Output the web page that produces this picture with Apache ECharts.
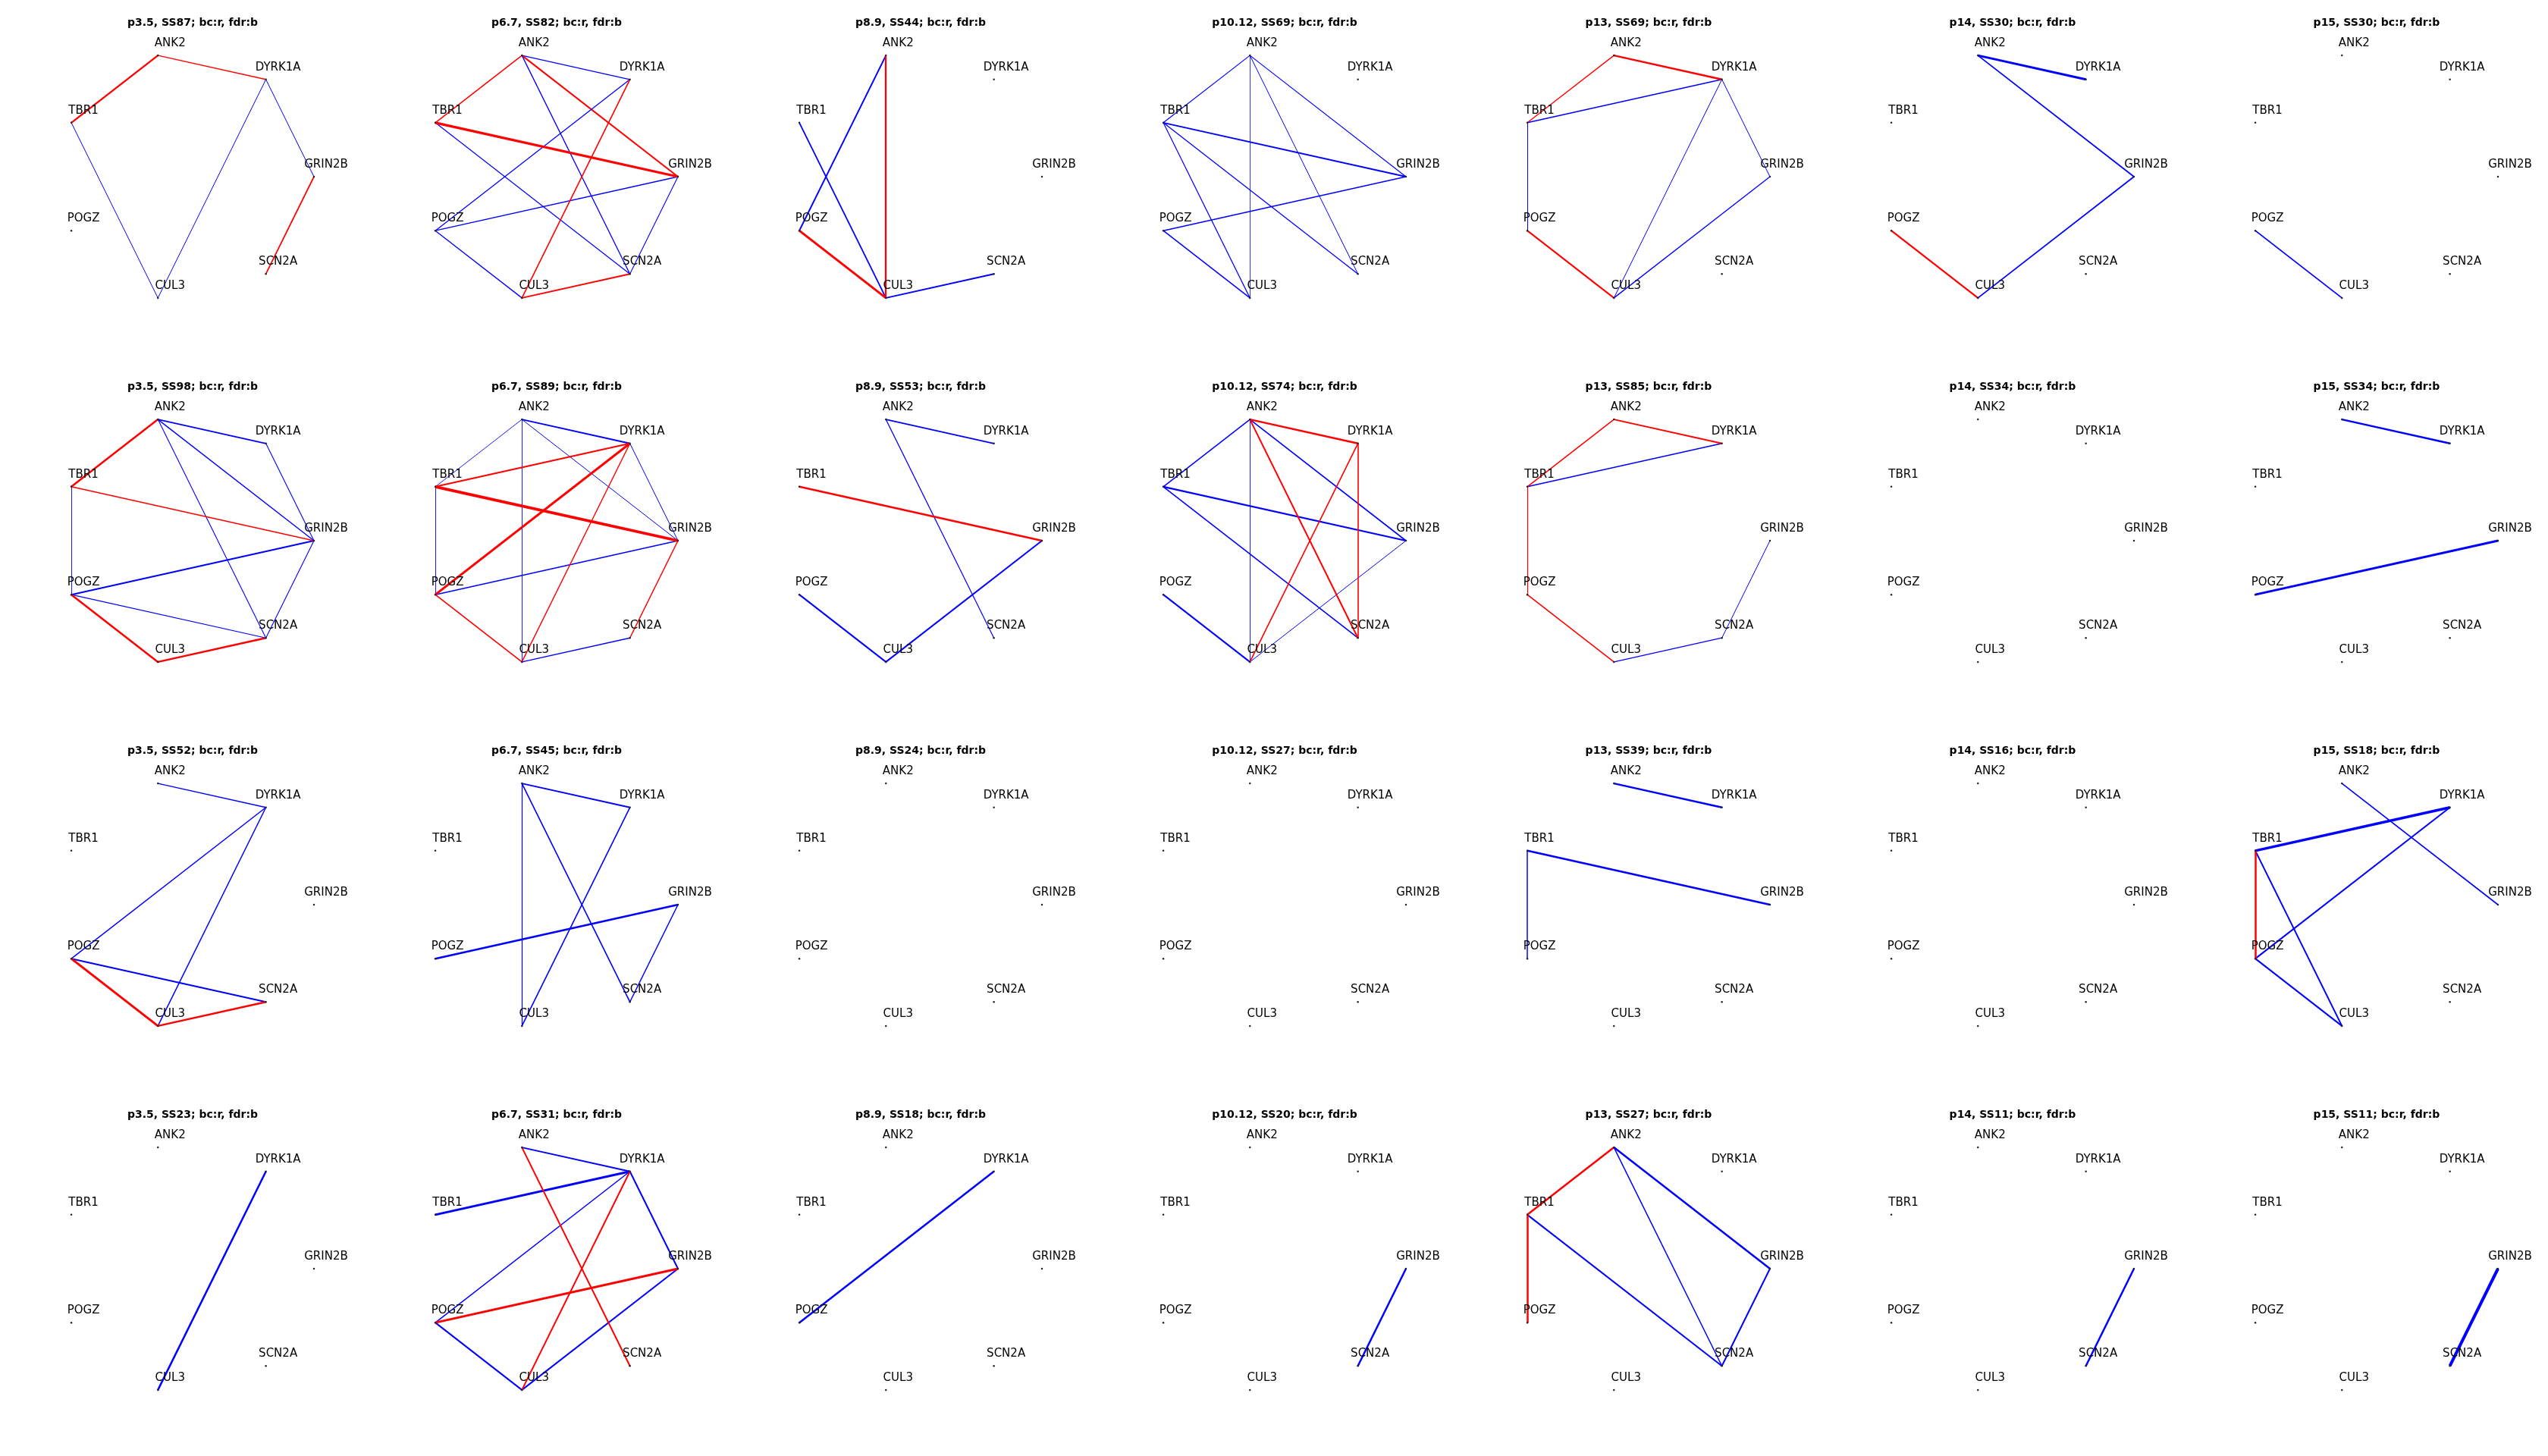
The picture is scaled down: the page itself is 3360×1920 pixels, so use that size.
<!DOCTYPE html>
<html>
<head>
<meta charset="utf-8">
<script src="https://cdn.jsdelivr.net/npm/echarts@6/dist/echarts.min.js"></script>
<style>
html,body{margin:0;padding:0;background:#ffffff;}
#chart{width:3360px;height:1920px;}
</style>
</head>
<body>
<div id="chart"></div>
<script>
// ---- data ----
const genes = ['GRIN2B', 'DYRK1A', 'ANK2', 'TBR1', 'POGZ', 'CUL3', 'SCN2A'];
const periods = ['p3.5', 'p6.7', 'p8.9', 'p10.12', 'p13', 'p14', 'p15'];
const sampleSizes = [
  [87, 82, 44, 69, 69, 30, 30],
  [98, 89, 53, 74, 85, 34, 34],
  [52, 45, 24, 27, 39, 16, 18],
  [23, 31, 18, 20, 27, 11, 11]
];
// edge: [gene A, gene B, source ('bc' = red, 'fdr' = blue), weight]
const edgesRow0 = [
  [['TBR1','ANK2','bc',2.3],['ANK2','DYRK1A','bc',1.5],['DYRK1A','GRIN2B','fdr',1],['GRIN2B','SCN2A','bc',1.7],['TBR1','CUL3','fdr',1],['DYRK1A','CUL3','fdr',1]],
  [['ANK2','TBR1','bc',1.5],['ANK2','DYRK1A','fdr',1.3],['ANK2','GRIN2B','bc',2],['ANK2','SCN2A','fdr',1.3],['TBR1','SCN2A','fdr',1.2],['DYRK1A','POGZ','fdr',1.3],['POGZ','GRIN2B','fdr',1.3],['POGZ','CUL3','fdr',1.3],['GRIN2B','SCN2A','fdr',1.1],['DYRK1A','CUL3','bc',1.6],['CUL3','SCN2A','bc',2],['TBR1','GRIN2B','bc',3.2]],
  [['ANK2','POGZ','fdr',2],['TBR1','CUL3','fdr',1.8],['CUL3','SCN2A','fdr',2],['ANK2','CUL3','bc',2.2],['POGZ','CUL3','bc',3]],
  [['ANK2','TBR1','fdr',1.2],['ANK2','CUL3','fdr',0.8],['ANK2','SCN2A','fdr',1],['ANK2','GRIN2B','fdr',1.2],['TBR1','GRIN2B','fdr',1.8],['TBR1','CUL3','fdr',1.2],['TBR1','SCN2A','fdr',1.3],['POGZ','GRIN2B','fdr',1.5],['POGZ','CUL3','fdr',1.5]],
  [['DYRK1A','TBR1','fdr',1.5],['DYRK1A','CUL3','fdr',1],['DYRK1A','GRIN2B','fdr',1],['GRIN2B','CUL3','fdr',1.3],['TBR1','POGZ','fdr',1],['ANK2','TBR1','bc',1.3],['ANK2','DYRK1A','bc',2.5],['POGZ','CUL3','bc',2]],
  [['ANK2','DYRK1A','fdr',3],['ANK2','GRIN2B','fdr',1.8],['GRIN2B','CUL3','fdr',1.8],['POGZ','CUL3','bc',2.2]],
  [['POGZ','CUL3','fdr',1.8]]
];
const edgesRow1 = [
  [['ANK2','DYRK1A','fdr',1.8],['ANK2','GRIN2B','fdr',1.4],['ANK2','SCN2A','fdr',1.1],['DYRK1A','GRIN2B','fdr',1.1],['TBR1','POGZ','fdr',0.9],['POGZ','GRIN2B','fdr',2],['GRIN2B','SCN2A','fdr',1.1],['POGZ','SCN2A','fdr',1.2],['ANK2','TBR1','bc',2.5],['TBR1','GRIN2B','bc',1.5],['POGZ','CUL3','bc',2.5],['CUL3','SCN2A','bc',2.5]],
  [['ANK2','TBR1','fdr',0.9],['ANK2','DYRK1A','fdr',2],['ANK2','CUL3','fdr',0.9],['ANK2','GRIN2B','fdr',1],['TBR1','POGZ','fdr',0.9],['DYRK1A','GRIN2B','fdr',1],['POGZ','GRIN2B','fdr',1.6],['CUL3','SCN2A','fdr',1.5],['TBR1','DYRK1A','bc',2],['TBR1','GRIN2B','bc',3.8],['DYRK1A','POGZ','bc',3],['DYRK1A','CUL3','bc',1.4],['POGZ','CUL3','bc',1.6],['GRIN2B','SCN2A','bc',1.5]],
  [['ANK2','DYRK1A','fdr',1.8],['ANK2','SCN2A','fdr',1.2],['POGZ','CUL3','fdr',2],['CUL3','GRIN2B','fdr',2],['TBR1','GRIN2B','bc',2.5]],
  [['ANK2','TBR1','fdr',1.5],['ANK2','CUL3','fdr',0.9],['ANK2','GRIN2B','fdr',1.6],['TBR1','GRIN2B','fdr',2.2],['TBR1','SCN2A','fdr',1.6],['POGZ','CUL3','fdr',2],['CUL3','GRIN2B','fdr',1],['ANK2','DYRK1A','bc',2.5],['ANK2','SCN2A','bc',2],['DYRK1A','CUL3','bc',1.6],['DYRK1A','SCN2A','bc',1.6]],
  [['TBR1','DYRK1A','fdr',1.6],['CUL3','SCN2A','fdr',1.3],['SCN2A','GRIN2B','fdr',1],['ANK2','TBR1','bc',1.5],['ANK2','DYRK1A','bc',2],['TBR1','POGZ','bc',1.2],['POGZ','CUL3','bc',1.5]],
  [],
  [['ANK2','DYRK1A','fdr',2.5],['POGZ','GRIN2B','fdr',3]]
];
const edgesRow2 = [
  [['ANK2','DYRK1A','fdr',1.5],['DYRK1A','POGZ','fdr',1.5],['DYRK1A','CUL3','fdr',1.5],['POGZ','SCN2A','fdr',2],['POGZ','CUL3','bc',3],['CUL3','SCN2A','bc',2.5]],
  [['ANK2','DYRK1A','fdr',2],['ANK2','CUL3','fdr',1.2],['ANK2','SCN2A','fdr',1.6],['DYRK1A','CUL3','fdr',1.6],['POGZ','GRIN2B','fdr',2.5],['GRIN2B','SCN2A','fdr',1.5]],
  [],
  [],
  [['ANK2','DYRK1A','fdr',2.5],['TBR1','GRIN2B','fdr',2.5],['TBR1','POGZ','fdr',1.5]],
  [],
  [['ANK2','GRIN2B','fdr',1.6],['TBR1','DYRK1A','fdr',3.5],['TBR1','CUL3','fdr',2],['DYRK1A','POGZ','fdr',2],['POGZ','CUL3','fdr',2],['TBR1','POGZ','bc',2.5]]
];
const edgesRow3 = [
  [['DYRK1A','CUL3','fdr',2.5]],
  [['ANK2','DYRK1A','fdr',2],['TBR1','DYRK1A','fdr',3],['DYRK1A','POGZ','fdr',1.5],['DYRK1A','GRIN2B','fdr',2],['POGZ','CUL3','fdr',2],['CUL3','GRIN2B','fdr',2],['ANK2','SCN2A','bc',2],['DYRK1A','CUL3','bc',2],['POGZ','GRIN2B','bc',3]],
  [['POGZ','DYRK1A','fdr',2.5]],
  [['GRIN2B','SCN2A','fdr',2.5]],
  [['ANK2','GRIN2B','fdr',2.5],['ANK2','SCN2A','fdr',1.5],['TBR1','SCN2A','fdr',2],['GRIN2B','SCN2A','fdr',2],['ANK2','TBR1','bc',2.5],['TBR1','POGZ','bc',2.5]],
  [['GRIN2B','SCN2A','fdr',2.5]],
  [['GRIN2B','SCN2A','fdr',4]]
];
const edgeRows = [edgesRow0, edgesRow1, edgesRow2, edgesRow3];

// ---- layout / styling ----
const CELL_W = 480, CELL_H = 480;
const CX = 245.7, CY = 233, RX = 168.3, RY = 164;
const COLORS = { bc: '#ff0000', fdr: '#0000ff' };
const FONT = 'DejaVu Sans';

// circular layout (networkx style): node k at angle 2*pi*k/n
const nodePos = genes.map((g, k) => {
  const a = 2 * Math.PI * k / genes.length;
  return [Math.cos(a), Math.sin(a)];
});

const grid = [], xAxis = [], yAxis = [], title = [], series = [];
for (let r = 0; r < sampleSizes.length; r++) {
  for (let c = 0; c < periods.length; c++) {
    const i = grid.length;
    grid.push({ left: c * CELL_W + CX - RX, top: r * CELL_H + CY - RY, width: 2 * RX, height: 2 * RY, containLabel: false });
    xAxis.push({ type: 'value', gridIndex: i, min: -1, max: 1, show: false });
    yAxis.push({ type: 'value', gridIndex: i, min: -1, max: 1, show: false });
    title.push({
      text: periods[c] + ', SS' + sampleSizes[r][c] + '; bc:r, fdr:b',
      left: c * CELL_W + 254, top: r * CELL_H + 30, padding: 0,
      textAlign: 'center', textVerticalAlign: 'middle',
      textStyle: { fontFamily: FONT, fontWeight: 'bold', fontSize: 14, color: '#000' }
    });
    const edges = edgeRows[r][c];
    series.push({
      type: 'graph', coordinateSystem: 'cartesian2d', xAxisIndex: i, yAxisIndex: i,
      layout: 'none', silent: true, animation: false,
      symbol: 'circle', symbolSize: 2.5,
      itemStyle: { color: '#222222' },
      label: {
        show: true, position: 'inside', align: 'center', verticalAlign: 'middle',
        offset: [16, -16], fontFamily: FONT, fontSize: 15, color: '#000000'
      },
      lineStyle: { opacity: 1, curveness: 0 },
      emphasis: { disabled: true },
      data: genes.map((g, k) => ({ name: g, value: nodePos[k] })),
      links: edges.map(e => ({
        source: e[0], target: e[1],
        lineStyle: { color: COLORS[e[2]], width: e[3], opacity: 1, curveness: 0 }
      }))
    });
  }
}

const chart = echarts.init(document.getElementById('chart'), null, { renderer: 'canvas' });
chart.setOption({
  backgroundColor: '#ffffff',
  animation: false,
  grid, xAxis, yAxis, title, series
});
</script>
</body>
</html>
